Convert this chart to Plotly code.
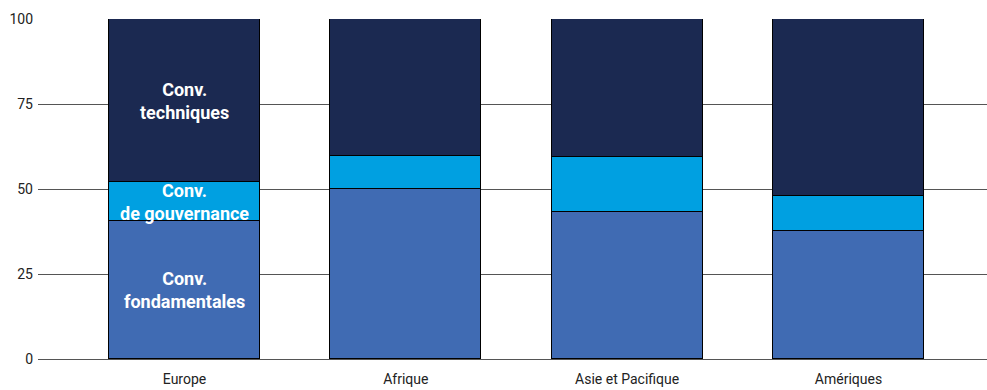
import plotly.graph_objects as go

categories = ["Europe", "Afrique", "Asie et Pacifique", "Amériques"]
fondamentales = [40.5, 50.0, 43.2, 37.7]
gouvernance = [11.5, 9.8, 16.1, 10.3]
techniques = [48.0, 40.2, 40.7, 52.0]
series_names = ["Conv.<br>fondamentales", "Conv.<br>de gouvernance", "Conv.<br>techniques"]
y_ticks = [0, 25, 50, 75, 100]

colors = ["#406bb3", "#00a0e1", "#1b2951"]
font_family = "Roboto, Liberation Sans Narrow, sans-serif"

fig = go.Figure()
for vals, name, col in zip([fondamentales, gouvernance, techniques], series_names, colors):
    fig.add_trace(go.Bar(
        x=categories, y=vals, name=name, width=0.682,
        marker=dict(color=col, line=dict(color="#000000", width=1)),
    ))

# labels inside the Europe bar, centred in each segment
base = 0
for vals, name in zip([fondamentales, gouvernance, techniques], series_names):
    fig.add_annotation(
        x=categories[0], y=base + vals[0] / 2, text="<b>" + name + "</b>",
        showarrow=False, font=dict(color="white", size=18, family=font_family),
        align="center",
    )
    base += vals[0]

fig.update_layout(
    barmode="stack",
    width=987, height=390,
    margin=dict(l=38, r=0, t=19, b=31),
    paper_bgcolor="white", plot_bgcolor="white",
    showlegend=False,
    bargap=0,
    font=dict(family=font_family, size=14, color="#222222"),
    xaxis=dict(range=[-0.662, 3.626], showgrid=False, showline=False, ticks="",
               tickfont=dict(size=14), ticklabelstandoff=10, fixedrange=True),
    yaxis=dict(range=[0, 100], tickvals=y_ticks, showgrid=True, gridcolor="#555555",
               gridwidth=1, zeroline=True, zerolinecolor="#555555", zerolinewidth=1,
               showline=False, ticks="", tickfont=dict(size=14), ticklabelstandoff=4),
)
fig.write_html("out.html")
